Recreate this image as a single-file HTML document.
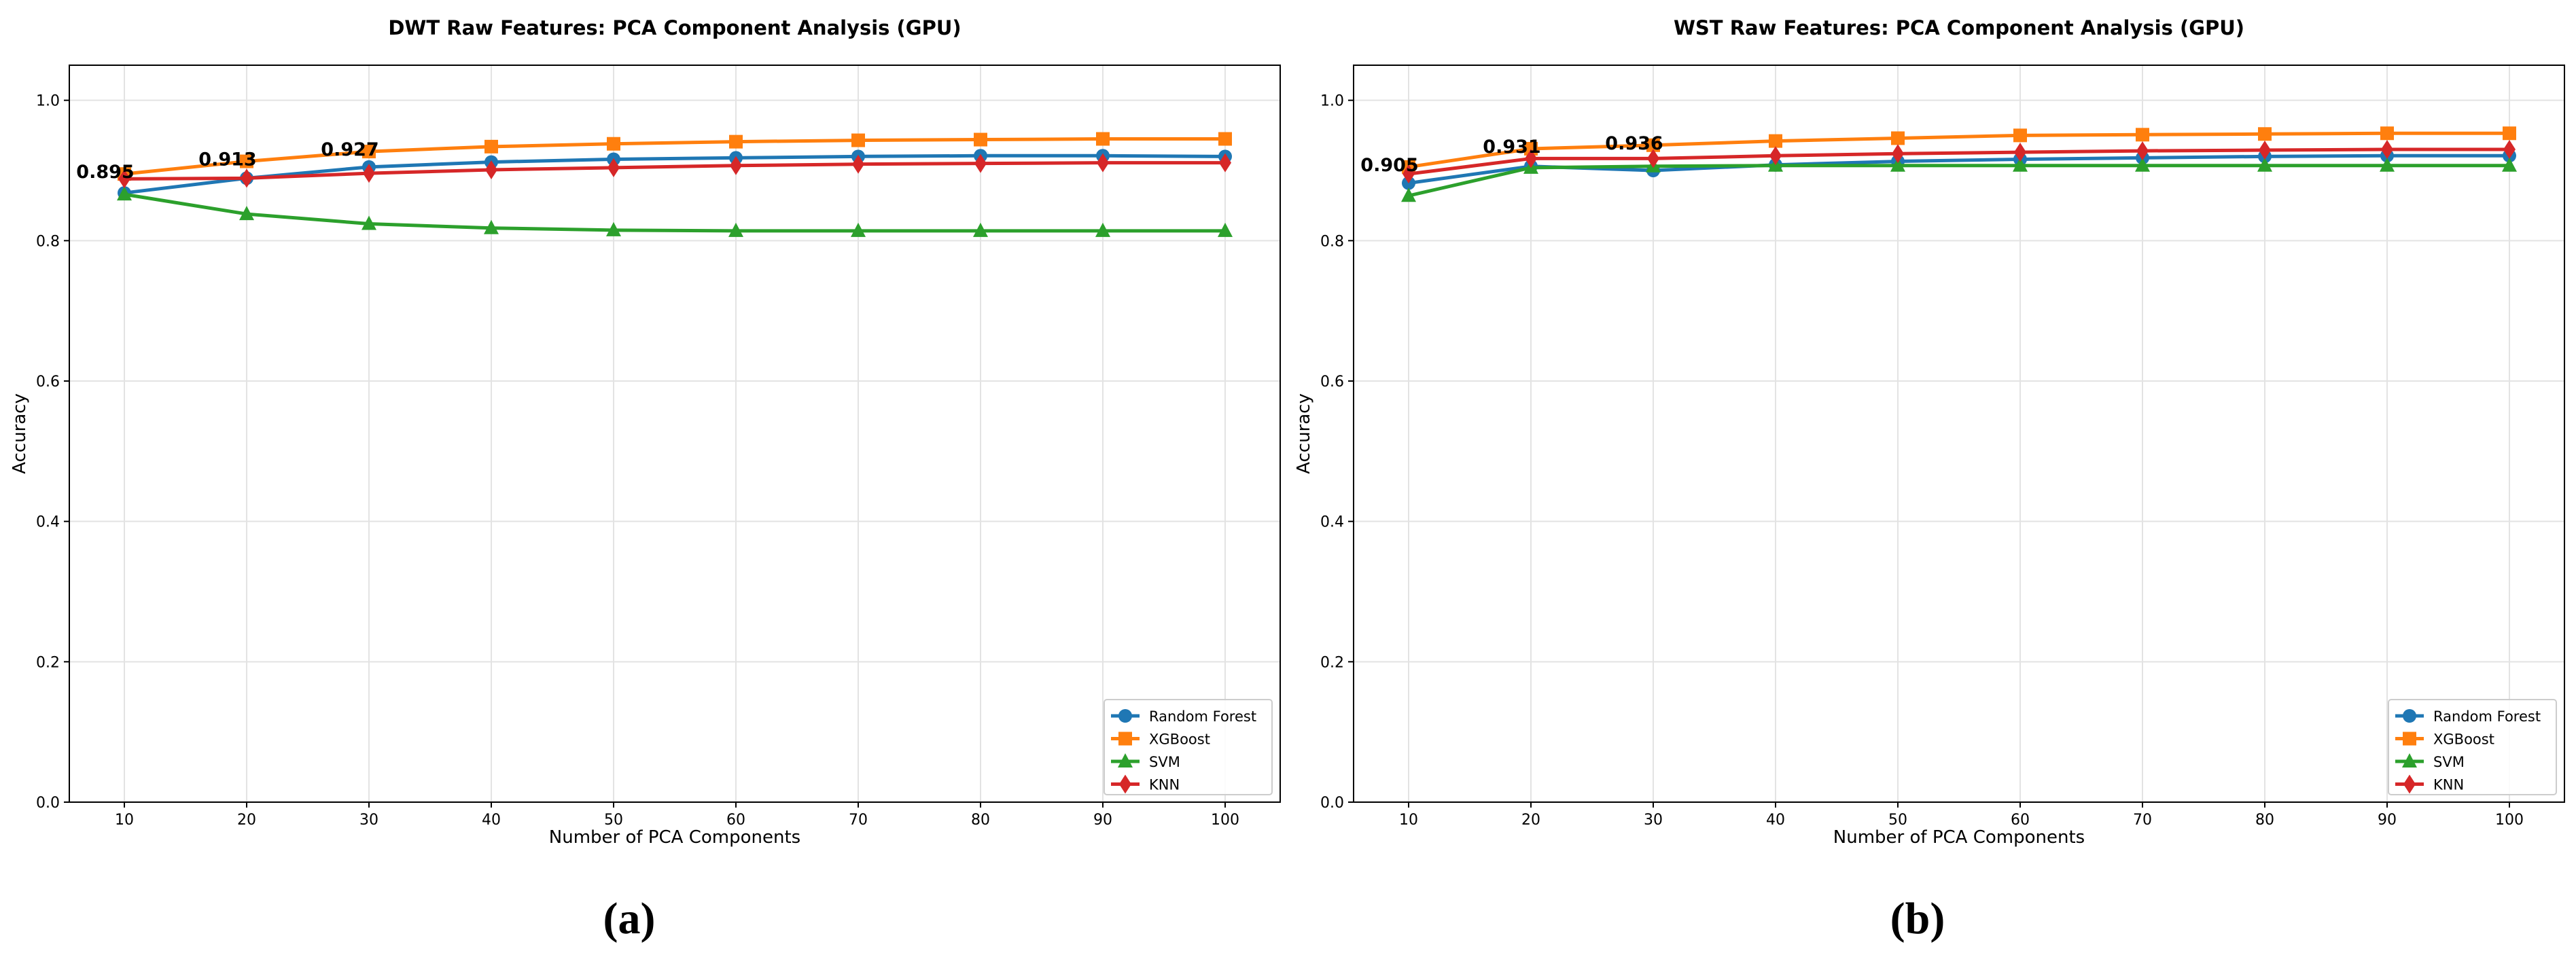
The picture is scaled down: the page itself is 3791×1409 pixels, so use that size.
<!DOCTYPE html>
<html><head><meta charset="utf-8"><style>
body{margin:0;background:#fff;}
svg{display:block;font-family:"DejaVu Sans","Liberation Sans",sans-serif;}
</style></head><body>
<svg id="chart" width="3791" height="1409" viewBox="0 0 3791 1409" xmlns="http://www.w3.org/2000/svg"></svg>
<script>
const categories = [10,20,30,40,50,60,70,80,90,100];
const yTicks = [0.0,0.2,0.4,0.6,0.8,1.0];
const seriesNames = ["Random Forest","XGBoost","SVM","KNN"];
const dwtRF  = [0.868,0.889,0.905,0.912,0.916,0.918,0.920,0.921,0.921,0.920];
const dwtXGB = [0.895,0.913,0.927,0.934,0.938,0.941,0.943,0.944,0.945,0.945];
const dwtSVM = [0.866,0.838,0.824,0.818,0.815,0.814,0.814,0.814,0.814,0.814];
const dwtKNN = [0.888,0.889,0.896,0.901,0.904,0.907,0.909,0.910,0.911,0.911];
const wstRF  = [0.882,0.906,0.900,0.908,0.913,0.916,0.918,0.920,0.921,0.921];
const wstXGB = [0.905,0.931,0.936,0.942,0.946,0.950,0.951,0.952,0.953,0.953];
const wstSVM = [0.864,0.904,0.906,0.907,0.907,0.907,0.907,0.907,0.907,0.907];
const wstKNN = [0.895,0.917,0.917,0.921,0.924,0.926,0.928,0.929,0.930,0.930];
const dwtLabels = ["0.895","0.913","0.927"];
const wstLabels = ["0.905","0.931","0.936"];

const NS="http://www.w3.org/2000/svg";
const svg=document.getElementById('chart');
function mk(tag,attrs,parent,text){const e=document.createElementNS(NS,tag);for(const k in attrs)e.setAttribute(k,attrs[k]);if(text!==undefined)e.textContent=text;(parent||svg).appendChild(e);return e;}
const colors=["#1f77b4","#ff7f0e","#2ca02c","#d62728"];
const markers=["circle","square","triangle","diamond"];

function marker(g,type,x,y,c){
  let e;
  if(type==="circle") e=mk('circle',{cx:x,cy:y,r:10,fill:c},g);
  else if(type==="square") e=mk('rect',{x:x-10,y:y-10,width:20,height:20,fill:c},g);
  else if(type==="triangle") e=mk('polygon',{points:`${x},${y-12} ${x+11},${y+9} ${x-11},${y+9}`,fill:c},g);
  else e=mk('polygon',{points:`${x},${y-14} ${x+9},${y} ${x},${y+14} ${x-9},${y}`,fill:c},g);
  return e;
}

function panel(id,x0,x1,title,series,labels,letter,letterX){
  const y0=96,y1=1181;
  const X=v=>x0+(v-5.5)/(104.5-5.5)*(x1-x0);
  const Y=v=>y1-v/1.05*(y1-y0);
  const g=mk('g',{});
  
  
  categories.forEach(c=>{const l=mk('line',{x1:X(c),x2:X(c),y1:y0,y2:y1,stroke:"#e3e3e3","stroke-width":2},g);
    });
  yTicks.forEach(t=>{const l=mk('line',{x1:x0,x2:x1,y1:Y(t),y2:Y(t),stroke:"#e3e3e3","stroke-width":2},g);
    });
  categories.forEach(c=>{mk('line',{x1:X(c),x2:X(c),y1:y1,y2:y1+8,stroke:"#000","stroke-width":2},g);
    const t=mk('text',{x:X(c),y:y1+33,"font-size":22,"text-anchor":"middle"},g,String(c));
    });
  yTicks.forEach(v=>{mk('line',{x1:x0-8,x2:x0,y1:Y(v),y2:Y(v),stroke:"#000","stroke-width":2},g);
    const t=mk('text',{x:x0-14,y:Y(v)+8,"font-size":22,"text-anchor":"end"},g,v.toFixed(1));
    });
  series.forEach((vals,i)=>{
    const sg=mk('g',{},g);
    
    
    const p=mk('polyline',{points:vals.map((v,j)=>X(categories[j])+","+Y(v)).join(" "),fill:"none",stroke:colors[i],"stroke-width":5,"stroke-linejoin":"round"},sg);
    
    vals.forEach((v,j)=>{const m=marker(sg,markers[i],X(categories[j]),Y(v),colors[i]);
      });
  });
  labels.forEach((lab,j)=>{
    const t=mk('text',{x:X(categories[j])-28,y:Y(series[1][j])+6,"font-size":27,"font-weight":"bold","text-anchor":"middle"},g,lab);
    
  });
  const fr=mk('rect',{x:x0,y:y0,width:x1-x0,height:y1-y0,fill:"none",stroke:"#000","stroke-width":2},g);
  
  const tt=mk('text',{x:(x0+x1)/2,y:51,"font-size":29,"font-weight":"bold","text-anchor":"middle"},g,title);
  
  const xl=mk('text',{x:(x0+x1)/2,y:1241,"font-size":26,"text-anchor":"middle"},g,"Number of PCA Components");
  
  const yl=mk('text',{x:0,y:0,"font-size":26,"text-anchor":"middle",transform:`translate(${x0-65},${(y0+y1)/2}) rotate(-90)`},g,"Accuracy");
  
  const lx=x1-259,ly=1030;
  const lg=mk('g',{},g);
  
  mk('rect',{x:lx,y:ly,width:247,height:140,rx:4,fill:"#fff","fill-opacity":0.85,stroke:"#ccc","stroke-width":2},lg);
  seriesNames.forEach((n,i)=>{
    const yy=ly+24+i*33.5;
    const e=mk('g',{},lg);
    
    mk('line',{x1:lx+10,x2:lx+52,y1:yy,y2:yy,stroke:colors[i],"stroke-width":5},e);
    marker(e,markers[i],lx+31,yy,colors[i]);
    mk('text',{x:lx+66,y:yy+8,"font-size":21},e,n);
  });
  const lt=mk('text',{x:letterX,y:1374,"font-size":66,"font-weight":"bold","font-family":"Liberation Serif, serif","text-anchor":"middle"},svg);
  lt.textContent=letter;
  
}
panel('dwt',102,1884,"DWT Raw Features: PCA Component Analysis (GPU)",[dwtRF,dwtXGB,dwtSVM,dwtKNN],dwtLabels,"(a)",926);
panel('wst',1992,3774,"WST Raw Features: PCA Component Analysis (GPU)",[wstRF,wstXGB,wstSVM,wstKNN],wstLabels,"(b)",2822);
</script>
</body></html>
